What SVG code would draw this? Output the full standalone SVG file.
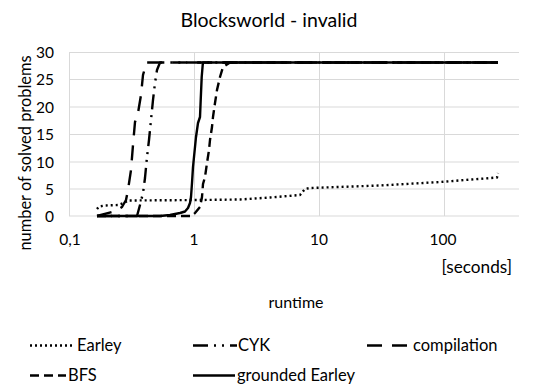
<svg xmlns="http://www.w3.org/2000/svg" width="536" height="390" viewBox="0 0 536 390">
<style>
text{font-family:Lato,"Liberation Sans",sans-serif;fill:#000}
.grid{stroke:#d9d9d9;stroke-width:1;fill:none}
.tick{font-size:15.5px}
.s{fill:none;stroke:#000;stroke-width:2.4;stroke-linejoin:round}
.earley{stroke-dasharray:2 3}
.cyk{stroke-dasharray:15 6 2 6 2 6}
.comp{stroke-dasharray:15 10}
.bfs{stroke-dasharray:9 5}
.leg{font-size:16.5px}
</style>
<rect width="536" height="390" fill="#fff"/>
<text x="269" y="27" text-anchor="middle" font-size="19.5">Blocksworld - invalid</text>
<g id="grid">
<path class="grid" d="M69,52.5H519M69,79.5H519M69,107H519M69,134.5H519M69,162H519M69,189H519M69,216H519M69.5,52V216M194.5,52V216M319.5,52V216M444.5,52V216"/>
</g>
<g id="yticks" class="tick" text-anchor="end">
<text x="54" y="58">30</text>
<text x="54" y="85">25</text>
<text x="54" y="112.5">20</text>
<text x="54" y="140">15</text>
<text x="54" y="167.5">10</text>
<text x="54" y="195">5</text>
<text x="54" y="221.5">0</text>
</g>
<g id="xticks" class="tick" text-anchor="middle">
<text x="70" y="245">0,1</text>
<text x="194" y="245">1</text>
<text x="319" y="245">10</text>
<text x="443" y="245">100</text>
</g>
<text x="512" y="273" text-anchor="end" font-size="17.2">[seconds]</text>
<text x="296" y="308" text-anchor="middle" font-size="16">runtime</text>
<text transform="translate(31,153) rotate(-90)" text-anchor="middle" font-size="16.4">number of solved problems</text>
<g id="connectors">
<path id="s-earley" class="s earley" d="M97,209 L99,206.5 L105,205.5 L118,205 L124,203 L128,200.5 L200,200 L240,199.5 L270,197.5 L300,195 L305,189 L310,188 L380,185.5 L440,182 L497,177.5 L498,173"/>
<path id="s-cyk" class="s cyk" d="M97,216 L137,216 L140,205 L143,193 L145,178 L147,157 L149,140 L151,120 L153,100 L155,83 L157,70 L160,62.5 L498,62.5"/>
<path id="s-comp" class="s comp" d="M97,216 L116,211 L122,207 L126,200 L128,190 L131,170 L133,145 L135,122 L138,113 L141,95 L143,75 L146.5,62.5 L498,62.5"/>
<path id="s-bfs" class="s bfs" d="M97,216 L192,216 L195,213 L200,207 L202,197 L203,184 L205,177 L207,163 L209,150 L210,140 L212,127 L213,117 L215,103 L217,90 L220,77 L223,67 L230,62.5 L498,62.5"/>
<path id="s-ge" class="s" d="M97,216 L160,216 L170,215 L180,213 L185,211.5 L188,208 L190,203 L191,197 L192,183 L193,167 L194,157 L196,137 L198,123 L200,117 L200.7,100 L201.7,77 L202.7,65 L203,62.5 L498,62.5"/>
</g>
<g id="legend">
<g id="leg-earley"><path class="s earley" d="M30,345.5H75"/><text class="leg" x="77" y="351">Earley</text></g>
<g id="leg-cyk"><path class="s cyk" d="M193,345.5H237"/><text class="leg" x="238" y="351">CYK</text></g>
<g id="leg-comp"><path class="s comp" d="M367,345.5H412"/><text class="leg" x="413" y="351">compilation</text></g>
<g id="leg-bfs"><path class="s bfs" d="M30,375.5H66"/><text class="leg" x="68" y="381">BFS</text></g>
<g id="leg-ge"><path class="s" d="M193,375.5H235"/><text class="leg" x="237" y="381">grounded Earley</text></g>
</g>
</svg>
